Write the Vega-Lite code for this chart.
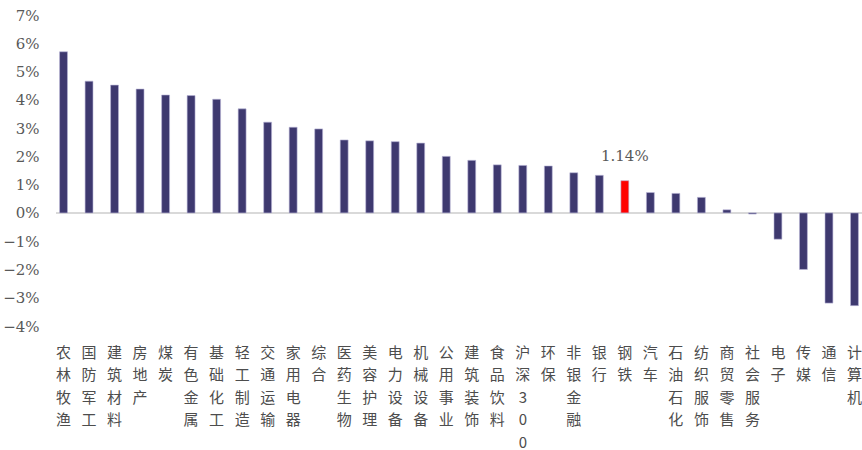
{
  "$schema": "https://vega.github.io/schema/vega-lite/v6.json",
  "autosize": "none",
  "width": 806,
  "height": 311,
  "padding": {"left": 56, "top": 15, "right": 0, "bottom": 124},
  "background": "white",
  "config": {"view": {"stroke": null}},
  "data": {
    "values": [
      {"industry": "农林牧渔", "value": 0.0570},
      {"industry": "国防军工", "value": 0.0466},
      {"industry": "建筑材料", "value": 0.0452},
      {"industry": "房地产", "value": 0.0438},
      {"industry": "煤炭", "value": 0.0417},
      {"industry": "有色金属", "value": 0.0415},
      {"industry": "基础化工", "value": 0.0402},
      {"industry": "轻工制造", "value": 0.0368},
      {"industry": "交通运输", "value": 0.0321},
      {"industry": "家用电器", "value": 0.0303},
      {"industry": "综合", "value": 0.0297},
      {"industry": "医药生物", "value": 0.0258},
      {"industry": "美容护理", "value": 0.0255},
      {"industry": "电力设备", "value": 0.0252},
      {"industry": "机械设备", "value": 0.0247},
      {"industry": "公用事业", "value": 0.0200},
      {"industry": "建筑装饰", "value": 0.0186},
      {"industry": "食品饮料", "value": 0.0170},
      {"industry": "沪深300", "value": 0.0168},
      {"industry": "环保", "value": 0.0166},
      {"industry": "非银金融", "value": 0.0142},
      {"industry": "银行", "value": 0.0133},
      {"industry": "钢铁", "value": 0.0114},
      {"industry": "汽车", "value": 0.0072},
      {"industry": "石油石化", "value": 0.0069},
      {"industry": "纺织服饰", "value": 0.0055},
      {"industry": "商贸零售", "value": 0.0011},
      {"industry": "社会服务", "value": -0.0004},
      {"industry": "电子", "value": -0.0093},
      {"industry": "传媒", "value": -0.0200},
      {"industry": "通信", "value": -0.0319},
      {"industry": "计算机", "value": -0.0328}
    ]
  },
  "encoding": {
    "x": {
      "field": "industry",
      "type": "nominal",
      "sort": null,
      "scale": {"paddingInner": 0.69, "paddingOuter": 0.14},
      "axis": {
        "title": null,
        "domain": false,
        "ticks": false,
        "labelAngle": 0,
        "labelAlign": "center",
        "labelBaseline": "top",
        "labelPadding": 19,
        "labelFont": "Noto Sans CJK SC",
        "labelFontSize": 15,
        "labelColor": "#4d4d4d",
        "labelLineHeight": 22.5,
        "labelExpr": "split(datum.value, '')"
      }
    },
    "y": {
      "field": "value",
      "type": "quantitative",
      "scale": {"domain": [-0.04, 0.07], "nice": false, "zero": false},
      "axis": {
        "title": null,
        "domain": false,
        "ticks": false,
        "grid": false,
        "values": [-0.04, -0.03, -0.02, -0.01, 0, 0.01, 0.02, 0.03, 0.04, 0.05, 0.06, 0.07],
        "format": ".0%",
        "labelFont": "DejaVu Serif",
        "labelFontSize": 15,
        "labelColor": "#595959",
        "labelPadding": 17
      }
    }
  },
  "layer": [
    {
      "mark": {"type": "rule", "color": "#d9d9d9", "strokeWidth": 1.5},
      "encoding": {"y": {"datum": 0}, "x": null}
    },
    {
      "mark": {"type": "bar", "stroke": "#b9b6d6", "strokeWidth": 0.6},
      "encoding": {
        "color": {
          "condition": {"test": "datum.industry == '钢铁'", "value": "#ff0000"},
          "value": "#3e396f"
        }
      }
    },
    {
      "transform": [{"filter": "datum.industry == '钢铁'"}],
      "mark": {
        "type": "text",
        "baseline": "bottom",
        "dy": -17,
        "font": "DejaVu Serif",
        "fontSize": 15,
        "color": "#595959"
      },
      "encoding": {
        "text": {"field": "value", "type": "quantitative", "format": ".2%"}
      }
    }
  ]
}
